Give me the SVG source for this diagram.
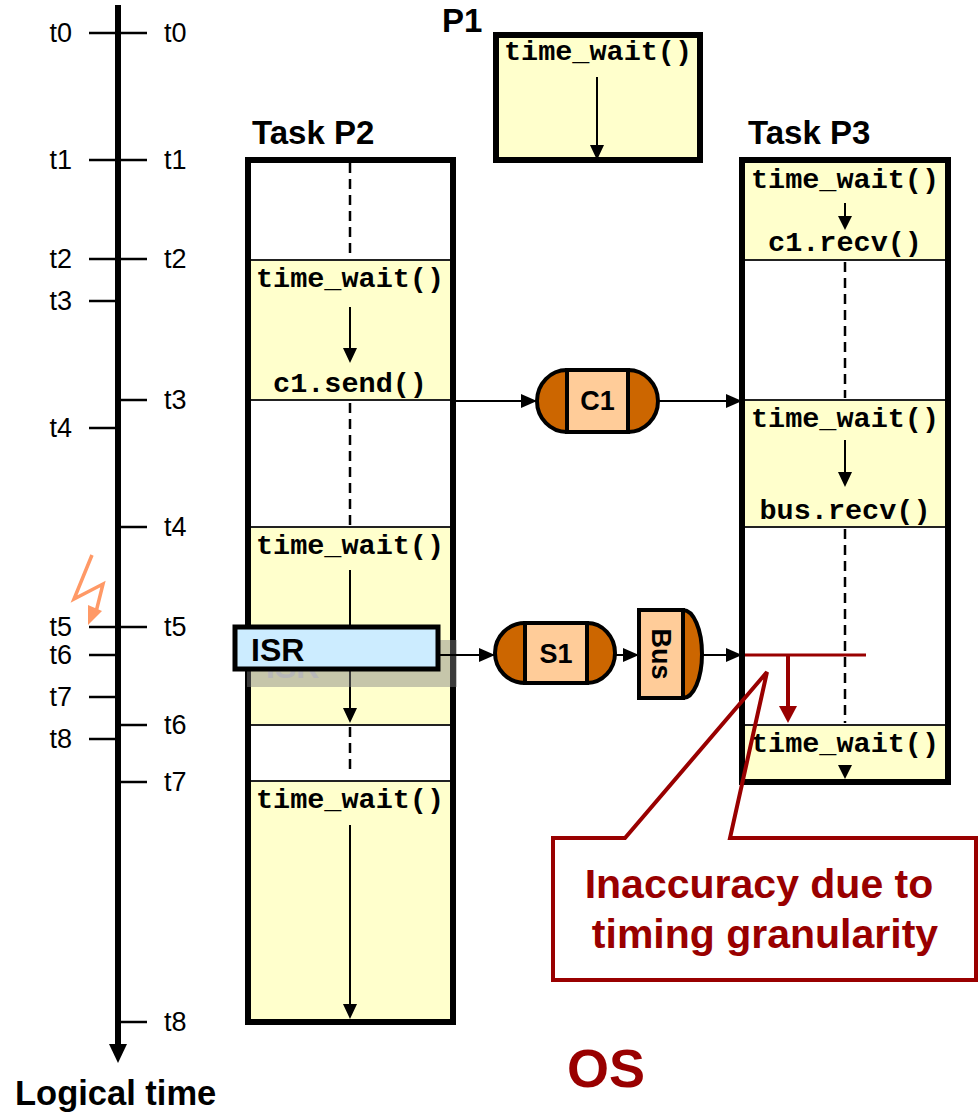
<svg xmlns="http://www.w3.org/2000/svg" width="980" height="1114" viewBox="0 0 980 1114">
<style>
.lbl{font-family:"Liberation Sans",Arial,sans-serif;font-size:27px;fill:#000}
.title{font-family:"Liberation Sans",Arial,sans-serif;font-size:33px;font-weight:bold;fill:#000}
.code{font-family:"Liberation Mono","Courier New",monospace;font-size:28.5px;font-weight:bold;fill:#000}
.node{font-family:"Liberation Sans",Arial,sans-serif;font-size:27px;font-weight:bold;fill:#000}
.red{font-family:"Liberation Sans",Arial,sans-serif;font-weight:bold;fill:#990000}
.tick{stroke:#000;stroke-width:2.5}
.box{fill:none;stroke:#000;stroke-width:6}
.yel{fill:#FFFFCC}
.div{stroke:#222;stroke-width:2}
.dash{stroke:#000;stroke-width:2.5;stroke-dasharray:10 6}
.flow{stroke:#000;stroke-width:2}
.conn{stroke:#000;stroke-width:2;marker-end:url(#ah)}
.dark{fill:#CC6600;stroke:#000;stroke-width:4}
.light{fill:#FFCC99;stroke:#000;stroke-width:4}
</style>
<defs>
<marker id="ah" markerWidth="16" markerHeight="14" refX="16" refY="7" orient="auto" markerUnits="userSpaceOnUse">
<path d="M0,0 L16,7 L0,14 Z" fill="#000"/>
</marker>
</defs>
<rect width="980" height="1114" fill="#fff"/>

<g id="timeline">
<line x1="118" y1="5" x2="118" y2="1048" stroke="#000" stroke-width="6"/>
<polygon points="109,1044 127,1044 118,1063" fill="#000"/>
<g class="ticks">
<line class="tick" x1="89" y1="33" x2="147" y2="33"/>
<line class="tick" x1="89" y1="160" x2="147" y2="160"/>
<line class="tick" x1="89" y1="259" x2="147" y2="259"/>
<line class="tick" x1="89" y1="301" x2="116" y2="301"/>
<line class="tick" x1="120" y1="400" x2="147" y2="400"/>
<line class="tick" x1="89" y1="428" x2="116" y2="428"/>
<line class="tick" x1="120" y1="527" x2="147" y2="527"/>
<line class="tick" x1="89" y1="627" x2="147" y2="627"/>
<line class="tick" x1="89" y1="655" x2="116" y2="655"/>
<line class="tick" x1="89" y1="697" x2="116" y2="697"/>
<line class="tick" x1="120" y1="725" x2="147" y2="725"/>
<line class="tick" x1="89" y1="739" x2="116" y2="739"/>
<line class="tick" x1="120" y1="782" x2="147" y2="782"/>
<line class="tick" x1="120" y1="1022" x2="147" y2="1022"/>
</g>
<g text-anchor="end">
<text class="lbl" x="72" y="42">t0</text>
<text class="lbl" x="72" y="169">t1</text>
<text class="lbl" x="72" y="268">t2</text>
<text class="lbl" x="72" y="310">t3</text>
<text class="lbl" x="72" y="437">t4</text>
<text class="lbl" x="72" y="636">t5</text>
<text class="lbl" x="72" y="664">t6</text>
<text class="lbl" x="72" y="706">t7</text>
<text class="lbl" x="72" y="748">t8</text>
</g>
<text class="lbl" x="164" y="42">t0</text>
<text class="lbl" x="164" y="169">t1</text>
<text class="lbl" x="164" y="268">t2</text>
<text class="lbl" x="164" y="409">t3</text>
<text class="lbl" x="164" y="536">t4</text>
<text class="lbl" x="164" y="636">t5</text>
<text class="lbl" x="164" y="734">t6</text>
<text class="lbl" x="164" y="791">t7</text>
<text class="lbl" x="164" y="1031">t8</text>
<text class="title" x="15" y="1105" style="font-size:34.5px">Logical time</text>
</g>

<g id="interrupt">
<polyline points="92,555 74,599 103,584 96,612" fill="none" stroke="#FF9966" stroke-width="3.5"/>
<polygon points="88,625 88,605 102,611" fill="#FF9966"/>
</g>

<g id="task-p1">
<text class="title" x="442" y="32">P1</text>
<rect class="yel" x="496" y="35" width="204" height="125"/>
<rect class="box" x="496" y="35" width="204" height="125"/>
<text class="code" x="598" y="60" text-anchor="middle">time_wait()</text>
<line class="flow" x1="597" y1="77" x2="597" y2="146"/>
<polygon points="590,145 604,145 597,160" fill="#000"/>
</g>

<g id="task-p2">
<text class="title" x="252" y="144">Task P2</text>
<rect x="251" y="163" width="199" height="856" fill="#fff"/>
<rect class="yel" x="251" y="260" width="199" height="140"/>
<rect class="yel" x="251" y="527" width="199" height="198"/>
<rect class="yel" x="251" y="781" width="199" height="238"/>
<line class="dash" x1="350" y1="163" x2="350" y2="258"/>
<line class="dash" x1="350" y1="403" x2="350" y2="525"/>
<line class="dash" x1="350" y1="727" x2="350" y2="775"/>
<line class="div" x1="251" y1="260" x2="450" y2="260"/>
<line class="div" x1="251" y1="400" x2="450" y2="400"/>
<line class="div" x1="251" y1="527" x2="450" y2="527"/>
<line class="div" x1="251" y1="725" x2="450" y2="725"/>
<line class="div" x1="251" y1="781" x2="450" y2="781"/>
<text class="code" x="350" y="287" text-anchor="middle">time_wait()</text>
<line class="flow" x1="350" y1="307" x2="350" y2="350"/>
<polygon points="343,348 357,348 350,363" fill="#000"/>
<text class="code" x="350" y="392" text-anchor="middle">c1.send()</text>
<text class="code" x="350" y="554" text-anchor="middle">time_wait()</text>
<line class="flow" x1="350" y1="570" x2="350" y2="710"/>
<polygon points="343,708 357,708 350,723" fill="#000"/>
<text class="code" x="350" y="808" text-anchor="middle">time_wait()</text>
<line class="flow" x1="350" y1="825" x2="350" y2="1006"/>
<polygon points="343,1004 357,1004 350,1019" fill="#000"/>
<rect class="box" x="248" y="160" width="205" height="862"/>
</g>

<g id="isr">
<rect x="247" y="640" width="210" height="47" fill="#808080" opacity="0.45"/>
<text class="title" x="266" y="678" style="fill:#b8b8b8;font-size:32px">ISR</text>
<rect x="235" y="627" width="203" height="42" fill="#CCECFF" stroke="#000" stroke-width="5"/>
<text class="title" x="251" y="661" style="font-size:32px">ISR</text>
</g>

<g id="task-p3">
<text class="title" x="748" y="144">Task P3</text>
<rect x="745" y="163" width="200" height="616" fill="#fff"/>
<rect class="yel" x="745" y="163" width="200" height="97"/>
<rect class="yel" x="745" y="400" width="200" height="127"/>
<rect class="yel" x="745" y="725" width="200" height="54"/>
<line class="dash" x1="845" y1="262" x2="845" y2="398"/>
<line class="dash" x1="845" y1="529" x2="845" y2="723"/>
<line class="div" x1="745" y1="260" x2="945" y2="260"/>
<line class="div" x1="745" y1="400" x2="945" y2="400"/>
<line class="div" x1="745" y1="527" x2="945" y2="527"/>
<line class="div" x1="745" y1="725" x2="945" y2="725"/>
<text class="code" x="845" y="188" text-anchor="middle">time_wait()</text>
<line class="flow" x1="845" y1="203" x2="845" y2="218"/>
<polygon points="838,216 852,216 845,230" fill="#000"/>
<text class="code" x="845" y="251" text-anchor="middle">c1.recv()</text>
<text class="code" x="845" y="427" text-anchor="middle">time_wait()</text>
<line class="flow" x1="845" y1="440" x2="845" y2="474"/>
<polygon points="838,472 852,472 845,487" fill="#000"/>
<text class="code" x="845" y="519" text-anchor="middle">bus.recv()</text>
<text class="code" x="845" y="752" text-anchor="middle">time_wait()</text>
<polygon points="838,765 852,765 845,779" fill="#000"/>
<rect class="box" x="742" y="160" width="206" height="622"/>
</g>

<g id="c1">
<path class="dark" d="M567,370 H628 A30,31 0 0 1 628,432 H567 A30,31 0 0 1 567,370 Z"/>
<rect class="light" x="567" y="370" width="61" height="62"/>
<text class="node" x="597.5" y="410" text-anchor="middle">C1</text>
</g>

<g id="s1">
<path class="dark" d="M525,623 H587 A28,30 0 0 1 587,683 H525 A30,30 0 0 1 525,623 Z"/>
<rect class="light" x="525" y="623" width="62" height="60"/>
<text class="node" x="556" y="663" text-anchor="middle">S1</text>
</g>

<g id="bus">
<path class="dark" d="M639,610 H683 A19,44 0 0 1 683,698 H639 Z"/>
<rect class="light" x="639" y="610" width="44" height="88"/>
<text class="node" x="661" y="654" text-anchor="middle" dominant-baseline="central" transform="rotate(90 661 654)">Bus</text>
</g>

<g id="connectors">
<line class="conn" x1="453" y1="401" x2="537" y2="401"/>
<line class="conn" x1="658" y1="401" x2="742" y2="401"/>
<line class="conn" x1="440" y1="655" x2="495" y2="655"/>
<line class="conn" x1="615" y1="655" x2="639" y2="655"/>
<line class="conn" x1="702" y1="655" x2="742" y2="655"/>
</g>

<g id="granularity">
<line x1="745" y1="655" x2="866" y2="655" stroke="#990000" stroke-width="3"/>
<line x1="788" y1="655" x2="788" y2="708" stroke="#990000" stroke-width="4"/>
<polygon points="779,706 797,706 788,723" fill="#990000"/>
</g>

<g id="callout">
<path d="M553,838 H625 L767,672 L730,838 H976 V980 H553 Z" fill="none" stroke="#990000" stroke-width="4"/>
<text class="red" x="759" y="898" text-anchor="middle" style="font-size:41px">Inaccuracy due to</text>
<text class="red" x="765" y="948" text-anchor="middle" style="font-size:41px">timing granularity</text>
</g>

<text id="os" class="red" x="606" y="1087" text-anchor="middle" style="font-size:54px">OS</text>
</svg>
